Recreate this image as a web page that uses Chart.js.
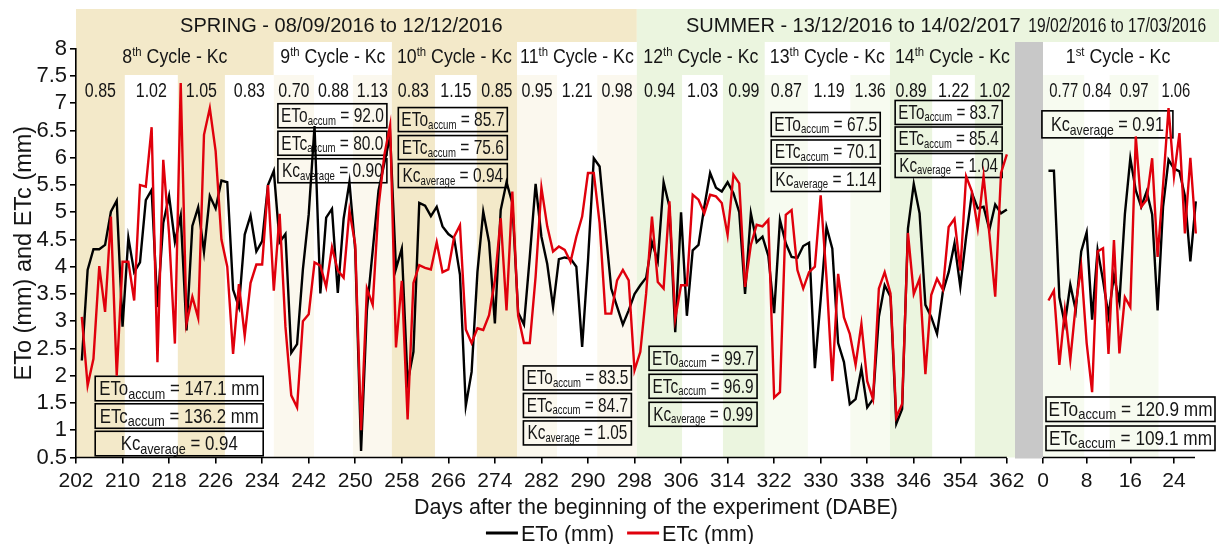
<!DOCTYPE html>
<html>
<head>
<meta charset="utf-8">
<title>ETo and ETc by crop cycle</title>
<script src="https://cdn.jsdelivr.net/npm/chart.js@4.4.1/dist/chart.umd.min.js"></script>
<style>
  html, body { margin: 0; padding: 0; background: #ffffff; }
  #wrap { width: 1219px; height: 544px; }
</style>
</head>
<body>
<div id="wrap"><canvas id="chart" width="1219" height="544"></canvas></div>
<script>
// ---------------------------------------------------------------------------
// Daily reference evapotranspiration (ETo) and crop evapotranspiration (ETc), mm
// Cycles 8-14: days after the beginning of the experiment 203..362
// ---------------------------------------------------------------------------
const firstDayA = 203;
const etoA = [
  2.28, 3.94, 4.32, 4.32, 4.40, 5.01, 5.21, 2.90, 4.53, 3.90,
  4.08, 5.22, 5.41, 3.26, 4.80, 5.30, 4.46, 4.94, 2.83, 4.75,
  5.09, 4.27, 5.30, 5.07, 5.58, 5.55, 3.58, 3.26, 4.59, 4.94,
  4.28, 4.47, 5.50, 5.76, 4.45, 4.60, 2.42, 2.58, 3.95, 4.96,
  6.58, 3.51, 4.90, 5.06, 3.52, 4.88, 5.55, 4.30, 0.62, 3.20,
  4.30, 5.40, 5.90, 6.40, 3.96, 4.33, 1.88, 2.44, 5.17, 5.12,
  4.93, 5.10, 4.74, 4.60, 4.52, 3.85, 1.45, 2.07, 3.90, 5.01,
  4.45, 2.96, 5.04, 5.55, 5.17, 3.16, 2.94, 4.18, 5.52, 4.55,
  4.05, 3.26, 4.14, 4.17, 4.15, 4.00, 2.53, 4.10, 5.99, 5.84,
  4.70, 3.60, 3.27, 2.94, 3.20, 3.50, 3.66, 3.80, 4.45, 4.10,
  5.55, 5.10, 2.80, 5.00, 3.10, 4.30, 4.40, 5.10, 5.72, 5.45,
  5.38, 5.55, 5.35, 5.00, 3.50, 4.98, 4.45, 4.55, 4.20, 3.15,
  4.86, 4.43, 4.18, 4.16, 4.38, 4.44, 2.14, 3.40, 4.73, 4.33,
  2.60, 2.25, 1.48, 1.57, 2.13, 1.42, 1.57, 3.08, 3.66, 3.45,
  1.12, 1.39, 4.70, 5.52, 4.98, 3.30, 3.08, 2.77, 3.54, 3.90,
  4.43, 3.63, 4.55, 5.35, 5.07, 5.10, 4.68, 5.14, 4.98, 5.05
];
const etcA = [
  3.08, 1.82, 2.31, 4.01, 3.17, 4.92, 2.00, 4.09, 4.09, 3.38,
  5.50, 5.47, 6.56, 2.25, 5.96, 4.60, 2.59, 7.37, 2.96, 3.45,
  3.06, 6.42, 6.91, 6.12, 4.50, 4.00, 2.40, 3.68, 2.73, 3.70,
  4.04, 4.04, 5.50, 3.56, 4.97, 2.90, 1.64, 1.42, 3.00, 3.13,
  4.08, 4.02, 3.63, 4.36, 3.93, 3.80, 5.03, 4.40, 1.00, 3.60,
  3.30, 5.10, 6.05, 6.60, 2.52, 3.74, 1.20, 3.70, 4.03, 3.98,
  3.95, 4.45, 3.90, 3.95, 4.55, 4.76, 2.85, 2.60, 2.87, 2.84,
  3.11, 3.75, 4.89, 3.20, 5.38, 3.10, 2.60, 2.60, 3.82, 5.45,
  4.74, 4.28, 4.37, 4.31, 4.09, 4.55, 4.92, 5.72, 5.72, 4.80,
  3.14, 3.14, 3.75, 3.94, 3.75, 2.10, 2.44, 3.51, 4.92, 3.72,
  3.60, 5.20, 3.05, 3.66, 3.66, 5.32, 5.23, 4.98, 5.32, 5.29,
  5.17, 4.58, 5.69, 5.53, 3.63, 4.40, 4.77, 4.74, 4.86, 1.60,
  1.70, 4.95, 5.04, 3.94, 3.60, 3.90, 4.00, 5.31, 3.80, 1.90,
  3.87, 3.07, 2.77, 2.20, 2.95, 1.90, 1.57, 3.60, 3.90, 3.51,
  1.24, 1.48, 4.62, 3.50, 3.78, 2.03, 3.48, 3.78, 3.58, 4.73,
  4.88, 3.93, 5.66, 5.38, 4.71, 5.66, 4.60, 3.45, 5.72, 6.06
];
// 1st cycle (19/02 to 17/03): days 1..28
const firstDayB = 1;
const etoB = [
  5.76, 5.76, 3.44, 2.95, 3.67, 3.20, 4.28, 4.63, 3.03, 4.31,
  3.75, 3.10, 3.84, 3.35, 4.96, 5.99, 5.40, 5.10, 5.38, 4.96,
  3.20, 5.10, 5.96, 5.80, 5.75, 5.30, 4.10, 5.20
];
const etcB = [
  3.38, 3.56, 2.20, 3.20, 2.29, 3.30, 4.00, 2.60, 1.70, 4.28,
  4.34, 2.40, 4.49, 2.41, 3.44, 3.26, 6.39, 5.10, 5.23, 5.99,
  4.18, 5.50, 6.91, 5.66, 6.45, 4.61, 6.00, 4.61
];

// Axis ticks
const xTicksA = [202, 210, 218, 226, 234, 242, 250, 258, 266, 274, 282, 290, 298, 306, 314, 322, 330, 338, 346, 354, 362];
const xTicksB = [0, 8, 16, 24];
const yTicks = [0.5, 1, 1.5, 2, 2.5, 3, 3.5, 4, 4.5, 5, 5.5, 6, 6.5, 7, 7.5, 8];

// Seasons
const seasonNames = ['SPRING - 08/09/2016 to 12/12/2016', 'SUMMER - 13/12/2016 to 14/02/2017', '19/02/2016 to 17/03/2016'];
const seasonStart = [202, 298.4, 0];

// Crop cycles: ordinal, phase limits (days) and phase crop coefficients
const cycleNumber = ['8', '9', '10', '11', '12', '13', '14', '1'];
const cycleSuffix = ['th', 'th', 'th', 'th', 'th', 'th', 'th', 'st'];
const cyclePhases = [
  [202, 210.4, 219.5, 227.6, 236.0],
  [236.0, 242.9, 249.6, 256.3],
  [256.3, 263.7, 270.9, 277.8],
  [277.8, 284.7, 291.6, 298.4],
  [298.4, 306.2, 313.2, 320.4],
  [320.4, 327.8, 335.1, 341.9],
  [341.9, 349.2, 356.5, 363.4],
  [0, 7.6, 12.2, 21.2, 27.5]
];
const phaseKc = [
  [0.85, 1.02, 1.05, 0.83],
  [0.70, 0.88, 1.13],
  [0.83, 1.15, 0.85],
  [0.95, 1.21, 0.98],
  [0.94, 1.03, 0.99],
  [0.87, 1.19, 1.36],
  [0.89, 1.22, 1.02],
  [0.77, 0.84, 0.97, 1.06]
];
const etoAccum = [147.1, 92.0, 85.7, 83.5, 99.7, 67.5, 83.7, 120.9];
const etcAccum = [136.2, 80.0, 75.6, 84.7, 96.9, 70.1, 85.4, 109.1];
const kcAverage = [0.94, 0.90, 0.94, 1.05, 0.99, 1.14, 1.04, 0.91];

// ---------------------------------------------------------------------------
// Presentation
// ---------------------------------------------------------------------------
const FONT = '"Liberation Sans", Arial, Helvetica, sans-serif';
const INK = '#151515';
const RED = '#e0000c';
const BLACK = '#000000';

const cycleAxis = ['x', 'x', 'x', 'x', 'x', 'x', 'x', 'x2'];
const themes = {
  tan:   { head: '#f3e9c9', phase: '#f3e9c9' },
  cream: { head: '#ffffff', phase: '#fbf8ee' },
  green: { head: '#ebf5df', phase: '#ebf5df' },
  mint:  { head: '#ffffff', phase: '#f7fbf0' }
};
const cycleTheme = ['tan', 'cream', 'tan', 'cream', 'green', 'mint', 'green', 'mint'];
// horizontal squeeze of the phase Kc figures (tighter where phases are short)
const kcSqueeze = [0.82, 0.82, 0.82, 0.82, 0.82, 0.82, 0.82, 0.76];
const seasonColor = ['#f3e9c9', '#ebf5df', '#ebf5df'];
const seasonLabelAt = [['x', 247.6], ['x', 335.6], ['x2', 13.6]];

// header rows (canvas pixels)
const HEAD_TOP = 9, HEAD_SPLIT = 42, HEAD_COLS = 75;

// summary boxes anchored in data coordinates (left day, top value)
const boxLayout = [
  { c: 0, axis: 'x',  x: 205.3, y: 1.99, w: 168, h: 24.5, step: 27.5, font: 20, sub: 15, subDy: 3.5, unit: ' mm', pad: 8,  rows: ['eto', 'etc', 'kc'] },
  { c: 1, axis: 'x',  x: 236.7, y: 6.99, w: 109, h: 24,   step: 27.5, font: 21, sub: 13, subDy: 2.5, unit: '',    pad: 6,  rows: ['eto', 'etc', 'kc'] },
  { c: 2, axis: 'x',  x: 257.4, y: 6.92, w: 109, h: 24,   step: 28,   font: 21, sub: 13, subDy: 2.5, unit: '',    pad: 6,  rows: ['eto', 'etc', 'kc'] },
  { c: 3, axis: 'x',  x: 278.9, y: 2.18, w: 108, h: 24,   step: 27.5, font: 21, sub: 13, subDy: 2.5, unit: '',    pad: 6,  rows: ['eto', 'etc', 'kc'] },
  { c: 4, axis: 'x',  x: 300.5, y: 2.54, w: 108, h: 24,   step: 28,   font: 21, sub: 13, subDy: 2.5, unit: '',    pad: 6,  rows: ['eto', 'etc', 'kc'] },
  { c: 5, axis: 'x',  x: 321.5, y: 6.83, w: 109, h: 24,   step: 27.5, font: 21, sub: 13, subDy: 2.5, unit: '',    pad: 6,  rows: ['eto', 'etc', 'kc'] },
  { c: 6, axis: 'x',  x: 342.8, y: 7.05, w: 107, h: 24,   step: 26.5, font: 21, sub: 13, subDy: 2.5, unit: '',    pad: 6,  rows: ['eto', 'etc', 'kc'] },
  { c: 7, axis: 'x2', x: -0.2,  y: 6.86, w: 131, h: 27,   step: 0,    font: 20, sub: 15, subDy: 4,   unit: '',    pad: 18, rows: ['kc'] },
  { c: 7, axis: 'x2', x: 0.55,  y: 1.61, w: 169, h: 24.5, step: 29,   font: 20, sub: 15, subDy: 3.5, unit: ' mm', pad: 5,  rows: ['eto', 'etc'] }
];

function richWidth(ctx, parts) {
  let total = 0;
  for (const p of parts) {
    ctx.font = p.size + 'px ' + FONT;
    p.w = ctx.measureText(p.text).width;
    total += p.w;
  }
  return total;
}

function drawRich(ctx, parts, x, y, align, scaleX) {
  const total = richWidth(ctx, parts);
  ctx.save();
  ctx.translate(x, y);
  ctx.scale(scaleX, 1);
  let cx = align === 'center' ? -total / 2 : (align === 'right' ? -total : 0);
  ctx.textAlign = 'left';
  ctx.textBaseline = 'alphabetic';
  for (const p of parts) {
    ctx.font = p.size + 'px ' + FONT;
    ctx.fillText(p.text, cx, p.dy || 0);
    cx += p.w;
  }
  ctx.restore();
}

function rowParts(kind, c, L) {
  if (kind === 'eto') {
    return [{ text: 'ETo', size: L.font }, { text: 'accum', size: L.sub, dy: L.subDy }, { text: ' = ' + etoAccum[c].toFixed(1) + L.unit, size: L.font }];
  }
  if (kind === 'etc') {
    return [{ text: 'ETc', size: L.font }, { text: 'accum', size: L.sub, dy: L.subDy }, { text: ' = ' + etcAccum[c].toFixed(1) + L.unit, size: L.font }];
  }
  return [{ text: 'Kc', size: L.font }, { text: 'average', size: L.sub, dy: L.subDy }, { text: ' = ' + kcAverage[c].toFixed(2), size: L.font }];
}

// Background: season band, cycle band, phase columns and the gap between periods
const backdrop = {
  id: 'backdrop',
  beforeDraw(chart) {
    const { ctx, chartArea, scales } = chart;
    const px = (axis, v) => scales[axis].getPixelForValue(v);
    const bottom = chartArea.bottom;
    const right = chart.width;
    ctx.save();
    ctx.fillStyle = '#ffffff';
    ctx.fillRect(0, 0, chart.width, chart.height);

    // season band
    const seasonEnds = [px('x', seasonStart[1]), right, right];
    const seasonBegins = [px('x', seasonStart[0]), px('x', seasonStart[1]), px('x', scales.x.max)];
    for (let s = 0; s < seasonNames.length; s++) {
      ctx.fillStyle = seasonColor[s];
      ctx.fillRect(seasonBegins[s], HEAD_TOP, seasonEnds[s] - seasonBegins[s], HEAD_SPLIT - HEAD_TOP);
    }

    // cycles and phases
    cyclePhases.forEach((bounds, c) => {
      const ax = cycleAxis[c];
      const th = themes[cycleTheme[c]];
      const x0 = px(ax, bounds[0]);
      const x1 = c === cyclePhases.length - 1 ? right : px(ax, bounds[bounds.length - 1]);
      ctx.fillStyle = th.head;
      ctx.fillRect(x0, HEAD_SPLIT, x1 - x0, HEAD_COLS - HEAD_SPLIT);
      for (let p = 0; p < bounds.length - 1; p++) {
        const a = px(ax, bounds[p]);
        const b = px(ax, bounds[p + 1]);
        ctx.fillStyle = p % 2 === 0 ? th.phase : '#ffffff';
        ctx.fillRect(a, HEAD_COLS, b - a, bottom - HEAD_COLS);
      }
    });

    // gap between the two periods
    const g0 = px('x2', scales.x2.min);
    const g1 = px('x2', 0);
    ctx.fillStyle = '#c8c8c8';
    ctx.fillRect(g0, HEAD_SPLIT, g1 - g0, bottom - HEAD_SPLIT + 1);

    // season titles
    ctx.fillStyle = INK;
    seasonNames.forEach((name, s) => {
      const [ax, v] = seasonLabelAt[s];
      const scale = s === 2 ? 0.78 : 1;
      drawRich(ctx, [{ text: name, size: 20 }], px(ax, v), 31.5, 'center', scale);
    });

    // cycle titles and phase Kc
    cyclePhases.forEach((bounds, c) => {
      const ax = cycleAxis[c];
      const mid = (px(ax, bounds[0]) + px(ax, bounds[bounds.length - 1])) / 2;
      drawRich(ctx, [
        { text: cycleNumber[c], size: 19.5 },
        { text: cycleSuffix[c], size: 12.5, dy: -7.5 },
        { text: ' Cycle - Kc', size: 19.5 }
      ], mid, 63, 'center', 0.91);
      for (let p = 0; p < bounds.length - 1; p++) {
        const m = (px(ax, bounds[p]) + px(ax, bounds[p + 1])) / 2;
        drawRich(ctx, [{ text: phaseKc[c][p].toFixed(2), size: 19.5 }], m, 96.5, 'center', kcSqueeze[c]);
      }
    });
    ctx.restore();
  },
  beforeDatasetsDraw(chart) {
    const { ctx, scales } = chart;
    ctx.save();
    ctx.strokeStyle = BLACK;
    ctx.lineWidth = 1.6;
    ctx.fillStyle = INK;
    for (const L of boxLayout) {
      const left = scales[L.axis].getPixelForValue(L.x);
      const top = scales.y.getPixelForValue(L.y);
      const rows = L.rows.map(k => rowParts(k, L.c, L));
      let sx = 1;
      for (const parts of rows) {
        sx = Math.min(sx, (L.w - L.pad) / richWidth(ctx, parts));
      }
      rows.forEach((parts, i) => {
        const ty = top + i * L.step;
        ctx.strokeRect(left, ty, L.w, L.h);
        drawRich(ctx, parts, left + L.w / 2, ty + L.h - 5.5 - (L.h - 24) / 2, 'center', sx);
      });
    }
    ctx.restore();
  },
  afterDraw(chart) {
    const { ctx, chartArea, scales } = chart;
    const px = (axis, v) => scales[axis].getPixelForValue(v);
    const y0 = chartArea.bottom;
    ctx.save();
    // horizontal axis lines for both periods
    ctx.strokeStyle = BLACK;
    ctx.lineWidth = 1.6;
    ctx.beginPath();
    ctx.moveTo(px('x', xTicksA[0]) - 0.8, y0);
    ctx.lineTo(px('x', xTicksA[xTicksA.length - 1]), y0);
    ctx.moveTo(px('x2', xTicksB[0]), y0);
    ctx.lineTo(px('x2', scales.x2.max), y0);
    ctx.stroke();

    // axis title
    ctx.fillStyle = INK;
    ctx.font = '21.5px ' + FONT;
    ctx.textAlign = 'center';
    ctx.textBaseline = 'alphabetic';
    ctx.fillText('Days after the beginning of the experiment (DABE)', 656, 514);

    // legend
    const items = [
      { label: chart.data.datasets[2].label, color: BLACK },
      { label: chart.data.datasets[0].label, color: RED }
    ];
    const seg = 32, gapText = 3, gapItem = 13;
    ctx.font = '21.5px ' + FONT;
    let total = 0;
    items.forEach(it => { it.w = ctx.measureText(it.label).width; total += seg + gapText + it.w; });
    total += gapItem;
    let lx = 620 - total / 2;
    ctx.textAlign = 'left';
    items.forEach(it => {
      ctx.strokeStyle = it.color;
      ctx.lineWidth = 3;
      ctx.beginPath();
      ctx.moveTo(lx, 533);
      ctx.lineTo(lx + seg, 533);
      ctx.stroke();
      ctx.fillStyle = INK;
      ctx.fillText(it.label, lx + seg + gapText, 540.5);
      lx += seg + gapText + it.w + gapItem;
    });
    ctx.restore();
  }
};

const series = (first, values) => values.map((v, i) => ({ x: first + i, y: v }));

const lineStyle = { borderWidth: 2.4, pointRadius: 0, pointHoverRadius: 0, tension: 0, fill: false, clip: 6 };

const chart = new Chart(document.getElementById('chart'), {
  type: 'line',
  data: {
    datasets: [
      Object.assign({ label: 'ETc (mm)', data: series(firstDayA, etcA), xAxisID: 'x', borderColor: RED, order: 0 }, lineStyle),
      Object.assign({ label: 'ETc (mm)', data: series(firstDayB, etcB), xAxisID: 'x2', borderColor: RED, order: 0 }, lineStyle),
      Object.assign({ label: 'ETo (mm)', data: series(firstDayA, etoA), xAxisID: 'x', borderColor: BLACK, order: 1 }, lineStyle),
      Object.assign({ label: 'ETo (mm)', data: series(firstDayB, etoB), xAxisID: 'x2', borderColor: BLACK, order: 1 }, lineStyle)
    ]
  },
  options: {
    responsive: false,
    animation: false,
    devicePixelRatio: 1,
    events: [],
    layout: { padding: { left: 0, right: 24, top: 48.7, bottom: 46.5 } },
    scales: {
      x: {
        type: 'linear', position: 'bottom', stack: 'days', stackWeight: 939,
        min: 202, max: 363.4,
        border: { display: false },
        grid: { display: true, drawOnChartArea: false, drawTicks: true, tickLength: 6, color: BLACK, lineWidth: 1.6 },
        ticks: { font: { family: FONT, size: 21 }, color: INK, padding: 5, autoSkip: false, maxRotation: 0 },
        afterBuildTicks: axis => { axis.ticks = xTicksA.map(v => ({ value: v })); },
        afterFit: axis => { axis.height = 40; }
      },
      x2: {
        type: 'linear', position: 'bottom', stack: 'days', stackWeight: 180,
        min: -5.13, max: 27.85,
        border: { display: false },
        grid: { display: true, drawOnChartArea: false, drawTicks: true, tickLength: 6, color: BLACK, lineWidth: 1.6 },
        ticks: { font: { family: FONT, size: 21 }, color: INK, padding: 5, autoSkip: false, maxRotation: 0 },
        afterBuildTicks: axis => { axis.ticks = xTicksB.map(v => ({ value: v })); },
        afterFit: axis => { axis.height = 40; }
      },
      y: {
        type: 'linear', position: 'left', min: 0.5, max: 8,
        border: { display: true, color: BLACK, width: 1.6 },
        grid: { display: true, drawOnChartArea: false, drawTicks: true, tickLength: 6, color: BLACK, lineWidth: 1.6 },
        ticks: { font: { family: FONT, size: 22 }, color: INK, padding: 3, autoSkip: false, callback: v => String(v) },
        afterBuildTicks: axis => { axis.ticks = yTicks.map(v => ({ value: v })); },
        afterFit: axis => { axis.width = 76; },
        title: { display: true, text: 'ETo (mm) and ETc (mm)', font: { family: FONT, size: 23.5 }, color: INK, padding: { top: 10, bottom: 0 } }
      }
    },
    plugins: {
      legend: { display: false },
      tooltip: { enabled: false }
    }
  },
  plugins: [backdrop]
});
</script>
</body>
</html>
